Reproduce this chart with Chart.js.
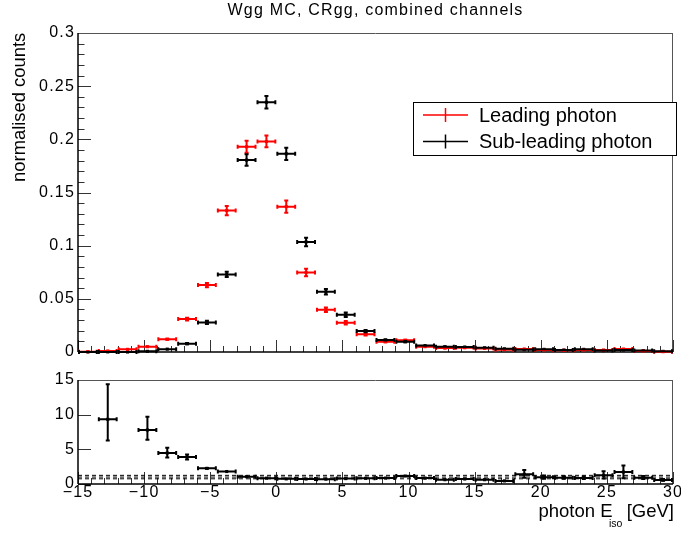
<!DOCTYPE html>
<html>
<head>
<meta charset="utf-8">
<title>Wgg MC, CRgg, combined channels</title>
<script src="https://cdn.jsdelivr.net/npm/chart.js@4.4.1/dist/chart.umd.min.js"></script>
<style>
  html, body { margin: 0; padding: 0; background: #fff; }
  #quadro { position: relative; width: 681px; height: 533px; overflow: hidden; background: #fff; }
  #painelTopo { position: absolute; left: 0; top: 0; }
  #painelRazao { position: absolute; left: 0; top: 365px; }
</style>
</head>
<body>
<div id="quadro">
  <canvas id="painelTopo" width="681" height="365"></canvas>
  <canvas id="painelRazao" width="681" height="168"></canvas>
</div>
<script>
// centros dos bins (largura 1.5 GeV)
const centros = [-14.25, -12.75, -11.25, -9.75, -8.25, -6.75, -5.25, -3.75, -2.25, -0.75,
  0.75, 2.25, 3.75, 5.25, 6.75, 8.25, 9.75, 11.25, 12.75, 14.25,
  15.75, 17.25, 18.75, 20.25, 21.75, 23.25, 24.75, 26.25, 27.75, 29.25];
const meiaLargura = 0.75;

// leading photon (vermelho)
const lider = [0.0003, 0.001, 0.0025, 0.005, 0.012, 0.031, 0.0629, 0.133, 0.193, 0.198,
  0.1367, 0.0748, 0.0397, 0.0275, 0.0166, 0.0097, 0.011, 0.005, 0.0037, 0.004,
  0.0034, 0.0022, 0.0028, 0.0019, 0.0016, 0.0019, 0.0019, 0.0028, 0.001, 0.0003];
const erroLider = [0.0003, 0.0005, 0.0007, 0.001, 0.0015, 0.0022, 0.003, 0.0053, 0.0065, 0.0065,
  0.0066, 0.0044, 0.003, 0.0025, 0.002, 0.0015, 0.0015, 0.001, 0.001, 0.001,
  0.001, 0.0008, 0.0008, 0.0007, 0.0007, 0.0007, 0.0007, 0.0008, 0.0005, 0.0003];

// sub-leading photon (preto)
const subLider = [0, 0.0001, 0, 0.00064, 0.0027, 0.0078, 0.0278, 0.0729, 0.1805, 0.2349,
  0.1864, 0.1035, 0.0566, 0.035, 0.0197, 0.0113, 0.0097, 0.006, 0.005, 0.0047,
  0.004, 0.003, 0.0022, 0.0025, 0.0019, 0.0025, 0.0013, 0.0019, 0.0013, 0.0006];
const erroSubLider = [0, 0.0001, 0, 0.0004, 0.0008, 0.0015, 0.0025, 0.0034, 0.0063, 0.0069,
  0.0067, 0.005, 0.0035, 0.003, 0.002, 0.0015, 0.0015, 0.001, 0.001, 0.001,
  0.001, 0.0008, 0.0007, 0.0007, 0.0007, 0.0007, 0.0006, 0.0007, 0.0006, 0.0004];

// painel de baixo: razão leading / sub-leading
const razao = [null, 9.33, null, 7.79, 4.47, 3.9, 2.26, 1.8, 1.06, 0.84,
  0.74, 0.72, 0.7, 0.78, 0.82, 0.85, 1.15, 0.85, 0.62, 0.72,
  0.62, 0.45, 1.39, 0.96, 0.91, 0.87, 1.25, 1.73, 0.91, 0.58];
const razaoSobe = [0, 5.2, 0, 2.07, 0.9, 0.5, 0.2, 0.12, 0.06, 0.05,
  0.05, 0.05, 0.06, 0.07, 0.08, 0.1, 0.15, 0.15, 0.15, 0.15,
  0.15, 0.12, 0.77, 0.4, 0.35, 0.35, 0.72, 1.1, 0.4, 0.3];
const razaoDesce = [0, 3.2, 0, 1.54, 0.8, 0.5, 0.2, 0.12, 0.06, 0.05,
  0.05, 0.05, 0.06, 0.07, 0.08, 0.1, 0.15, 0.15, 0.15, 0.15,
  0.15, 0.12, 0.62, 0.35, 0.3, 0.3, 0.6, 1.06, 0.35, 0.25];
const linhasRef = [0.75, 1.0, 1.25]; // linhas tracejadas

const nomes = ['Leading photon', 'Sub-leading photon'];
const cores = ['#ff0000', '#000000'];
const titulo = 'Wgg MC, CRgg, combined channels';
const tituloY = 'normalised counts';

const fonte = "'Liberation Sans', Arial, sans-serif";
Chart.defaults.font.family = fonte;
Chart.defaults.color = '#000';
Chart.defaults.animation = false;

const pontos = (ys) => centros.map((c, i) => ({ x: c, y: ys[i] }));

function linha(ctx, x0, y0, x1, y1) {
  ctx.beginPath();
  ctx.moveTo(x0, y0);
  ctx.lineTo(x1, y1);
  ctx.stroke();
}

// o texto do ROOT sai mais largo, então abro um pouco as letras dos números e do título
const espacamento = {
  id: 'espacamento',
  beforeDraw(chart) { chart.ctx.letterSpacing = '1.2px'; },
  afterDatasetsDraw(chart) { chart.ctx.letterSpacing = '0px'; }
};

// quadro e marcas para dentro, no estilo ROOT
const moldura = {
  id: 'moldura',
  beforeDatasetsDraw(chart, args, o) {
    const { ctx, chartArea: a } = chart;
    const x = chart.scales.x, y = chart.scales.y;
    ctx.save();
    ctx.strokeStyle = '#333';
    ctx.lineWidth = 1;
    const nx = Math.round((x.max - x.min) / o.xMenor);
    for (let i = 0; i <= nx; i++) {
      const v = x.min + i * o.xMenor;
      const grande = Math.abs(v / o.xMaior - Math.round(v / o.xMaior)) < 1e-6;
      const px = Math.round(x.getPixelForValue(v)) + 0.5;
      linha(ctx, px, a.bottom, px, a.bottom - (grande ? o.xGrande : o.xPequena));
    }
    const ny = Math.round((y.max - y.min) / o.yMenor);
    for (let i = 0; i <= ny; i++) {
      const v = y.min + i * o.yMenor;
      const grande = Math.abs(v / o.yMaior - Math.round(v / o.yMaior)) < 1e-6;
      const py = Math.round(y.getPixelForValue(v)) + 0.5;
      linha(ctx, a.left, py, a.left + (grande ? o.yGrande : o.yPequena), py);
    }
    ctx.strokeStyle = '#555';
    linha(ctx, a.left, a.top + 0.5, a.right, a.top + 0.5);
    linha(ctx, a.right - 0.5, a.top, a.right - 0.5, a.bottom);
    ctx.strokeStyle = '#000';
    ctx.lineWidth = 1.5;
    linha(ctx, a.left, a.top, a.left, a.bottom);
    linha(ctx, a.left, a.bottom, a.right, a.bottom);
    ctx.restore();
  }
};

// barras de erro (cruz com pontinhas)
const barrasErro = {
  id: 'barrasErro',
  afterDatasetsDraw(chart) {
    const { ctx, chartArea: a } = chart;
    const x = chart.scales.x, y = chart.scales.y;
    const ponta = 2;
    ctx.save();
    ctx.beginPath();
    ctx.rect(a.left - 3, a.top - 3, a.right - a.left + 6, a.bottom - a.top + 6);
    ctx.clip();
    chart.data.datasets.forEach((ds) => {
      if (!ds.erroSobe) return;
      ctx.strokeStyle = ds.borderColor;
      ctx.lineWidth = 2;
      ds.data.forEach((p, i) => {
        if (p.y === null) return;
        const xc = x.getPixelForValue(p.x);
        const x0 = x.getPixelForValue(p.x - meiaLargura);
        const x1 = x.getPixelForValue(p.x + meiaLargura);
        const yc = y.getPixelForValue(p.y);
        const y0 = y.getPixelForValue(Math.max(p.y - ds.erroDesce[i], y.min));
        const y1 = y.getPixelForValue(p.y + ds.erroSobe[i]);
        ctx.beginPath();
        ctx.moveTo(x0, yc); ctx.lineTo(x1, yc);
        ctx.moveTo(x0 + 1, yc - ponta); ctx.lineTo(x0 + 1, yc + ponta);
        ctx.moveTo(x1 - 1, yc - ponta); ctx.lineTo(x1 - 1, yc + ponta);
        if (y0 - y1 > 2) {
          ctx.moveTo(xc, y0); ctx.lineTo(xc, y1);
          ctx.moveTo(xc - ponta, y1 + 1); ctx.lineTo(xc + ponta, y1 + 1);
          ctx.moveTo(xc - ponta, y0 - 1); ctx.lineTo(xc + ponta, y0 - 1);
        }
        ctx.stroke();
      });
    });
    ctx.restore();
  }
};

// legenda com caixa, dentro do gráfico
const legendaRoot = {
  id: 'legendaRoot',
  afterDraw(chart, args, o) {
    if (!o.mostrar) return;
    const { ctx } = chart;
    ctx.save();
    ctx.letterSpacing = '0px';
    ctx.fillStyle = '#fff';
    ctx.fillRect(o.x, o.y, o.w, o.h);
    ctx.strokeStyle = '#000';
    ctx.lineWidth = 1;
    ctx.strokeRect(o.x + 0.5, o.y + 0.5, o.w, o.h);
    ctx.font = o.tamanho + 'px ' + fonte;
    ctx.textBaseline = 'middle';
    ctx.textAlign = 'left';
    chart.data.datasets.forEach((ds, i) => {
      const yc = o.y + o.primeira + i * o.passo;
      ctx.strokeStyle = ds.borderColor;
      ctx.lineWidth = 1.5;
      linha(ctx, o.x + 10, yc, o.x + 55, yc);
      linha(ctx, o.x + 32.5, yc - 7, o.x + 32.5, yc + 7);
      ctx.fillStyle = '#000';
      ctx.fillText(ds.label, o.x + 66, yc + 1);
    });
    ctx.restore();
  }
};

// títulos dos eixos (com subscrito no eixo x)
const titulosEixos = {
  id: 'titulosEixos',
  afterDraw(chart, args, o) {
    const { ctx } = chart;
    ctx.save();
    ctx.letterSpacing = '0px';
    ctx.fillStyle = '#000';
    ctx.textBaseline = 'alphabetic';
    (o.textos || []).forEach((t) => {
      ctx.save();
      ctx.font = t.tamanho + 'px ' + fonte;
      ctx.textAlign = t.alinhar;
      ctx.translate(t.x, t.y);
      if (t.girar) ctx.rotate(-Math.PI / 2);
      ctx.fillText(t.texto, 0, 0);
      ctx.restore();
    });
    ctx.restore();
  }
};

const ticksFonte = { size: 16, lineHeight: 1 };

// painel de cima
const graficoTopo = new Chart(document.getElementById('painelTopo'), {
  type: 'scatter',
  data: {
    datasets: [
      {
        label: nomes[0],
        data: pontos(lider),
        erroSobe: erroLider,
        erroDesce: erroLider,
        borderColor: cores[0],
        backgroundColor: cores[0],
        pointStyle: 'rect',
        pointRadius: 2.2,
        pointBorderWidth: 0,
        clip: false
      },
      {
        label: nomes[1],
        data: pontos(subLider),
        erroSobe: erroSubLider,
        erroDesce: erroSubLider,
        borderColor: cores[1],
        backgroundColor: cores[1],
        pointStyle: 'rect',
        pointRadius: 2.2,
        pointBorderWidth: 0,
        clip: false
      }
    ]
  },
  options: {
    responsive: false,
    events: [],
    layout: { padding: { left: 0, right: 8, top: 0, bottom: 13 } },
    scales: {
      x: { type: 'linear', min: -15, max: 30, display: false },
      y: {
        type: 'linear', min: 0, max: 0.3,
        grid: { display: false, drawTicks: false },
        border: { display: false },
        ticks: {
          stepSize: 0.05, padding: 3, font: ticksFonte, color: '#000',
          callback: (v) => String(+Number(v).toFixed(3))
        },
        afterFit: (s) => { s.width = 78; s.paddingTop = 0; s.paddingBottom = 0; }
      }
    },
    plugins: {
      legend: { display: false },
      tooltip: { enabled: false },
      title: {
        display: true, text: titulo, fullSize: false, color: '#000',
        font: { size: 16, weight: 'normal', lineHeight: 1.2 },
        padding: { top: 0.5, bottom: 13.3 }
      },
      moldura: { xMenor: 1, xMaior: 5, xGrande: 12, xPequena: 6, yMenor: 0.01, yMaior: 0.05, yGrande: 13, yPequena: 6.5 },
      legendaRoot: { mostrar: true, x: 413, y: 102, w: 263, h: 53, primeira: 13, passo: 26.5, tamanho: 20 },
      titulosEixos: { textos: [{ texto: tituloY, x: 25, y: 32.7, tamanho: 18.4, alinhar: 'right', girar: true }] }
    }
  },
  plugins: [espacamento, moldura, barrasErro, legendaRoot, titulosEixos]
});

// painel de baixo (razão)
const graficoRazao = new Chart(document.getElementById('painelRazao'), {
  type: 'scatter',
  data: {
    datasets: [
      {
        label: 'razao',
        data: pontos(razao),
        erroSobe: razaoSobe,
        erroDesce: razaoDesce,
        borderColor: '#000',
        backgroundColor: '#000',
        pointStyle: 'rect',
        pointRadius: 2.2,
        pointBorderWidth: 0,
        clip: false
      },
      ...linhasRef.map((v) => ({
        type: 'line',
        label: 'ref ' + v,
        data: [{ x: -15, y: v }, { x: 30, y: v }],
        showLine: true,
        borderColor: '#000',
        borderWidth: 1,
        borderDash: [4, 3],
        pointRadius: 0
      }))
    ]
  },
  options: {
    responsive: false,
    events: [],
    layout: { padding: { left: 0, right: 8, top: 15, bottom: 25 } },
    scales: {
      x: {
        type: 'linear', min: -15, max: 30,
        grid: { display: false, drawTicks: false },
        border: { display: false },
        ticks: {
          stepSize: 5, padding: 1, font: ticksFonte, color: '#000', autoSkip: false, maxRotation: 0,
          callback: (v) => String(v).replace('-', '\u2212')
        },
        afterFit: (s) => { s.height = 24; s.paddingLeft = 0; s.paddingRight = 0; }
      },
      y: {
        type: 'linear', min: 0, max: 15,
        grid: { display: false, drawTicks: false },
        border: { display: false },
        ticks: { stepSize: 5, padding: 3, font: ticksFonte, color: '#000' },
        afterFit: (s) => { s.width = 78; s.paddingTop = 0; s.paddingBottom = 0; }
      }
    },
    plugins: {
      legend: { display: false },
      tooltip: { enabled: false },
      moldura: { xMenor: 1, xMaior: 5, xGrande: 12, xPequena: 6, yMenor: 5, yMaior: 5, yGrande: 13, yPequena: 13 },
      titulosEixos: {
        textos: [
          { texto: 'photon E', x: 538.5, y: 152, tamanho: 18.5, alinhar: 'left' },
          { texto: 'iso', x: 609, y: 162, tamanho: 10.5, alinhar: 'left' },
          { texto: '[GeV]', x: 674, y: 152, tamanho: 18.5, alinhar: 'right' }
        ]
      }
    }
  },
  plugins: [espacamento, moldura, barrasErro, titulosEixos]
});
</script>
</body>
</html>
